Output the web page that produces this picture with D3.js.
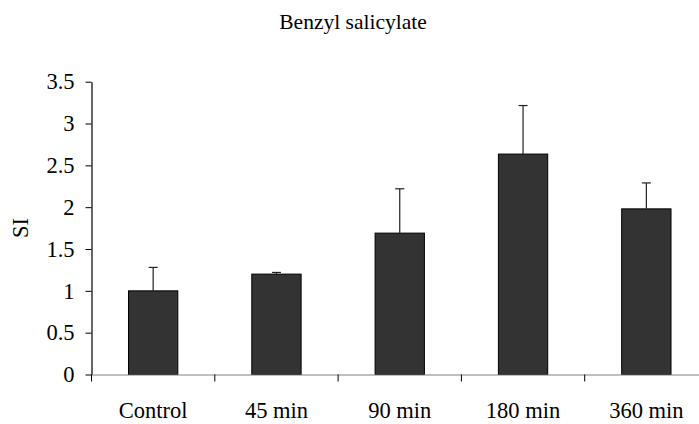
<!DOCTYPE html>
<html>
<head>
<meta charset="utf-8">
<script src="https://cdn.jsdelivr.net/npm/d3@7"></script>
<style>
  body { margin: 0; background: #fff; }
  svg { display: block; font-family: "Liberation Serif", "Times New Roman", serif; }
</style>
</head>
<body>
<div id="chart"></div>
<script>
const categories = ["Control", "45 min", "90 min", "180 min", "360 min"]
const means = [1.0, 1.2, 1.69, 2.635, 1.98]
const errors = [0.28, 0.02, 0.53, 0.58, 0.31]
const yTicks = [0, 0.5, 1, 1.5, 2, 2.5, 3, 3.5]

const width = 699
const height = 424
const plotLeft = 91.5
const plotBottom = 374.5
const plotTop = 81.7
const labelSize = "22.5px"

const svg = d3.select("#chart")
    .append("svg")
    .attr("width", width)
    .attr("height", height)

const x = d3.scaleBand()
    .domain(categories)
    .range([plotLeft, plotLeft + 5 * 123.3])
    .paddingInner(0.6)
    .paddingOuter(0.3)

const y = d3.scaleLinear()
    .domain([0, 3.5])
    .range([plotBottom, plotTop])

// title
svg.append("text")
    .attr("x", 353)
    .attr("y", 29)
    .attr("text-anchor", "middle")
    .style("font-size", "21.5px")
    .text("Benzyl salicylate")

// y axis
const yAxis = svg.append("g")
    .attr("transform", "translate(" + plotLeft + ",0)")
    .call(d3.axisLeft(y).tickValues(yTicks).tickSize(6).tickSizeOuter(0).tickFormat(d => String(d)))
yAxis.select(".domain").attr("stroke", "#000").attr("stroke-width", 1.2)
yAxis.selectAll(".tick line").attr("stroke", "#000")
yAxis.selectAll(".tick text")
    .attr("x", -17)
    .attr("fill", "#000")
    .style("font-size", labelSize)
    .style("font-family", "Liberation Serif")

svg.append("text")
    .attr("transform", "translate(28," + y(1.75) + ") rotate(-90)")
    .attr("text-anchor", "middle")
    .style("font-size", labelSize)
    .text("SI")

// bars
svg.selectAll("rect.bar")
    .data(means)
    .join("rect")
    .attr("class", "bar")
    .attr("x", (d, i) => x(categories[i]))
    .attr("width", x.bandwidth())
    .attr("y", d => y(d))
    .attr("height", d => y(0) - y(d))
    .attr("fill", "#333333")
    .attr("stroke", "#000")
    .attr("stroke-width", 1)

// error bars (upper only)
const cx = i => x(categories[i]) + x.bandwidth() / 2
svg.selectAll("line.err")
    .data(means)
    .join("line")
    .attr("class", "err")
    .attr("x1", (d, i) => cx(i))
    .attr("x2", (d, i) => cx(i))
    .attr("y1", d => y(d))
    .attr("y2", (d, i) => y(d + errors[i]))
    .attr("stroke", "#222")
    .attr("stroke-width", 1.2)
svg.selectAll("line.cap")
    .data(means)
    .join("line")
    .attr("class", "cap")
    .attr("x1", (d, i) => cx(i) - 4.5)
    .attr("x2", (d, i) => cx(i) + 4.5)
    .attr("y1", (d, i) => y(d + errors[i]))
    .attr("y2", (d, i) => y(d + errors[i]))
    .attr("stroke", "#222")
    .attr("stroke-width", 1.2)

// x axis
const xAxis = svg.append("g")
    .attr("transform", "translate(0," + plotBottom + ")")
    .call(d3.axisBottom(x).tickSize(0).tickSizeOuter(0))
xAxis.select(".domain").attr("stroke", "#808080").attr("stroke-width", 1.2)
xAxis.selectAll(".tick text")
    .attr("y", 27.5)
    .attr("fill", "#000")
    .style("font-size", labelSize)
    .style("font-family", "Liberation Serif")

// category boundary ticks
const step = x.step()
const bounds = d3.range(categories.length + 1).map(i => plotLeft + i * step)
svg.selectAll("line.bound")
    .data(bounds)
    .join("line")
    .attr("class", "bound")
    .attr("x1", d => d)
    .attr("x2", d => d)
    .attr("y1", plotBottom)
    .attr("y2", plotBottom + 7)
    .attr("stroke", "#000")
    .attr("stroke-width", 1)
</script>
</body>
</html>
